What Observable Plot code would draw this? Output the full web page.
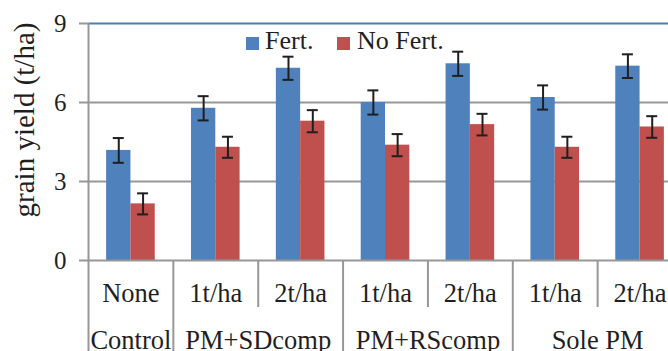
<!DOCTYPE html>
<html><head><meta charset="utf-8">
<script src="https://cdn.jsdelivr.net/npm/d3@7"></script>
<script src="https://cdn.jsdelivr.net/npm/@observablehq/plot@0.6"></script>
<style>
html,body{margin:0;padding:0;background:#fff;overflow:hidden}
#wrap{position:relative;width:668px;height:351px;overflow:hidden;background:#fff}
#wrap svg{max-width:none !important;display:block}
.legtxt{position:absolute;font-family:"Liberation Serif",serif;font-size:26px;line-height:26px;color:#1f1f1f;white-space:nowrap}
.sw{position:absolute;width:13px;height:13px}
.ylab{position:absolute;left:24px;top:120px;font-family:"Liberation Serif",serif;font-size:29px;line-height:29px;color:#1f1f1f;white-space:nowrap;transform:translate(-50%,-50%) rotate(-90deg)}
</style></head><body>
<div id="wrap"></div>
<script>
// ---- data ----
const categoryIds = ["C0","SD1","SD2","RS1","RS2","PM1","PM2"];
const categoryLabels = ["None","1t/ha","2t/ha","1t/ha","2t/ha","1t/ha","2t/ha"];
const categoryGroups = ["Control","PM+SDcomp","PM+SDcomp","PM+RScomp","PM+RScomp","Sole PM","Sole PM"];
const groupNames = ["Control","PM+SDcomp","PM+RScomp","Sole PM"];
const seriesNames = ["Fert.","No Fert."];
const fertYield   = [4.18, 5.78, 7.30, 6.00, 7.47, 6.19, 7.38];
const fertErr     = [0.47, 0.46, 0.44, 0.46, 0.46, 0.46, 0.45];
const noFertYield = [2.15, 4.30, 5.29, 4.38, 5.16, 4.30, 5.07];
const noFertErr   = [0.40, 0.40, 0.42, 0.42, 0.41, 0.40, 0.41];
const yTicks = [0, 3, 6, 9];
const yLabel = "grain yield (t/ha)";

// ---- layout / style ----
const W = 700, H = 351, mL = 88, mR = 18, mT = 23, mB = 91;
const frameW = W - mL - mR, frameH = H - mT - mB;
const bw = frameW / categoryIds.length;
const barW = 24.3, capW = 11;
const blue = "#4F81BD", red = "#C0504D", grid = "#979797", topLine = "#4a7ebb", ink = "#1f1f1f";
const font = "Liberation Serif";

const rows = categoryIds.map((id, i) => ({
  id, label: categoryLabels[i], group: categoryGroups[i],
  fert: fertYield[i], fertErr: fertErr[i],
  noFert: noFertYield[i], noFertErr: noFertErr[i],
  first: i === 0 || categoryGroups[i] !== categoryGroups[i - 1]
}));
const groupRows = groupNames.map(g => {
  const idx = categoryGroups.map((c, i) => c === g ? i : -1).filter(i => i >= 0);
  return {name: g, firstId: categoryIds[idx[0]], size: idx.length};
});

const errMarks = (val, err, off) => [
  Plot.ruleX(rows, {x: "id", y1: d => d[val] - d[err], y2: d => d[val] + d[err], dx: off, stroke: ink, strokeWidth: 2}),
  Plot.tickY(rows, {x: "id", y: d => d[val] + d[err], insetLeft: bw / 2 + off - capW / 2, insetRight: bw / 2 - off - capW / 2, stroke: ink, strokeWidth: 2}),
  Plot.tickY(rows, {x: "id", y: d => d[val] - d[err], insetLeft: bw / 2 + off - capW / 2, insetRight: bw / 2 - off - capW / 2, stroke: ink, strokeWidth: 2})
];

const chart = Plot.plot({
  width: W, height: H,
  marginLeft: mL, marginRight: mR, marginTop: mT, marginBottom: mB,
  style: {fontFamily: font, fontSize: "25px", color: ink, background: "white", overflow: "visible", maxWidth: "none"},
  x: {type: "band", domain: categoryIds, padding: 0, round: false, axis: null},
  y: {domain: [0, 9], ticks: yTicks, tickSize: 0, tickPadding: 22, label: null},
  marks: [
    Plot.ruleY(yTicks, {stroke: grid, strokeWidth: 2, insetLeft: -9, insetRight: frameW}),
    Plot.ruleY(yTicks.filter(t => t > 0 && t < 9), {stroke: grid, strokeWidth: 2}),
    Plot.ruleY([9], {stroke: topLine, strokeWidth: 2}),
    Plot.barY(rows, {x: "id", y: "fert", fill: blue, insetLeft: bw / 2 - barW, insetRight: bw / 2}),
    Plot.barY(rows, {x: "id", y: "noFert", fill: red, insetLeft: bw / 2, insetRight: bw / 2 - barW}),
    Plot.ruleY([0], {stroke: grid, strokeWidth: 2}),
    Plot.ruleX(rows.slice(0, 1), {x: "id", dx: -bw / 2, stroke: grid, strokeWidth: 2}),
    Plot.ruleX(rows.filter(d => d.first), {x: "id", dx: -bw / 2, stroke: grid, strokeWidth: 2, insetTop: frameH, insetBottom: -mB}),
    Plot.ruleX(rows.filter(d => !d.first), {x: "id", dx: -bw / 2, stroke: grid, strokeWidth: 2, insetTop: frameH, insetBottom: -47}),
    ...errMarks("fert", "fertErr", -barW / 2),
    ...errMarks("noFert", "noFertErr", barW / 2),
    Plot.text(rows, {x: "id", text: "label", frameAnchor: "bottom", lineAnchor: "bottom", dy: 41, fontSize: 26.5, fill: ink}),
    Plot.text(groupRows.filter(g => g.size === 1), {x: "firstId", text: "name", frameAnchor: "bottom", lineAnchor: "bottom", dy: 88, fontSize: 26.5, fill: ink}),
    Plot.text(groupRows.filter(g => g.size === 2), {x: "firstId", text: "name", dx: bw / 2, frameAnchor: "bottom", lineAnchor: "bottom", dy: 88, fontSize: 26.5, fill: ink})
  ]
});

const wrap = document.getElementById("wrap");
wrap.appendChild(chart);

// y-axis title (HTML, rotated)
const yl = document.createElement("div");
yl.className = "ylab"; yl.textContent = yLabel;
wrap.appendChild(yl);

// legend (HTML, inside plot area)
const legendItems = [
  {name: seriesNames[0], color: blue, sx: 246, tx: 265},
  {name: seriesNames[1], color: red, sx: 337, tx: 357}
];
for (const it of legendItems) {
  const s = document.createElement("div");
  s.className = "sw"; s.style.left = it.sx + "px"; s.style.top = "37px"; s.style.background = it.color;
  wrap.appendChild(s);
  const t = document.createElement("div");
  t.className = "legtxt"; t.style.left = it.tx + "px"; t.style.top = "28px"; t.textContent = it.name;
  wrap.appendChild(t);
}
</script>
</body></html>
